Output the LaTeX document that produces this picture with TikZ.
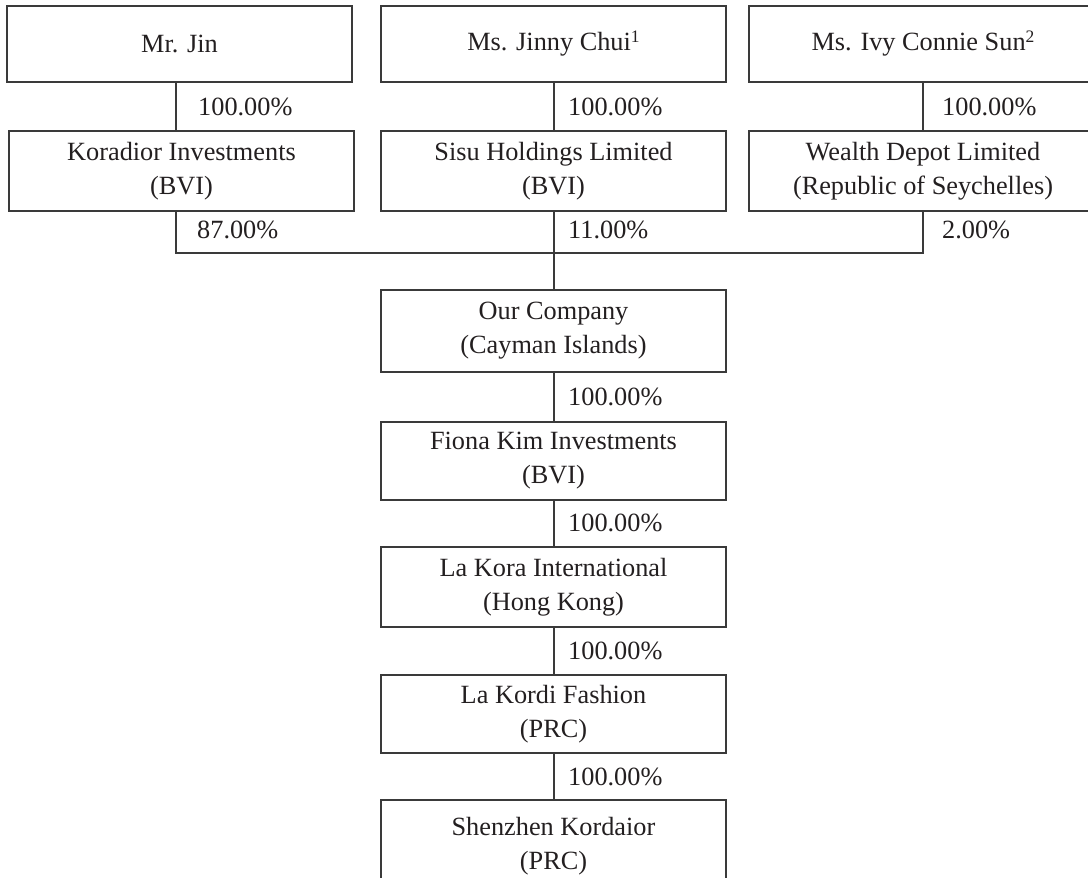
\documentclass[tikz,border=0pt]{standalone}
\usepackage{fontspec}
\setmainfont{Liberation Serif}
\definecolor{ink}{HTML}{231F20}
\definecolor{rule}{HTML}{3A3A3A}
\newcommand{\supnum}[1]{\raisebox{8pt}{\fontsize{17.5}{17.5}\selectfont #1}}
\begin{document}
\begin{tikzpicture}[x=1pt,y=-1pt,
  box/.style={draw=rule, line width=1.1pt, inner sep=0pt, align=center,
    text=ink, font=\fontsize{26.3}{34}\selectfont},
  pct/.style={anchor=west, inner sep=0pt, text=ink,
    font=\fontsize{26.3}{34}\selectfont},
  conn/.style={draw=rule, line width=1.1pt}]
\useasboundingbox (0,0) rectangle (1088,878);
% top row
\node[box, minimum width=345pt, minimum height=76pt] (jin) at (179.5,44) {Mr. Jin};
\node[box, minimum width=345pt, minimum height=76pt] (jinny) at (553.5,44) {Ms. Jinny Chui\supnum{1}};
\node[box, minimum width=348pt, minimum height=76pt] (ivy) at (923,44) {Ms. Ivy Connie Sun\supnum{2}};
% second row
\node[box, minimum width=345pt, minimum height=80pt] (kor) at (181.5,171) {Koradior Investments\\(BVI)};
\node[box, minimum width=345pt, minimum height=80pt] (sisu) at (553.5,171) {Sisu Holdings Limited\\(BVI)};
\node[box, minimum width=348pt, minimum height=80pt] (wealth) at (923,171) {Wealth Depot Limited\\(Republic of Seychelles)};
% central column
\node[box, minimum width=345pt, minimum height=82pt] (ourco) at (553.5,331) {Our Company\\(Cayman Islands)};
\node[box, minimum width=345pt, minimum height=78pt] (fiona) at (553.5,461) {Fiona Kim Investments\\(BVI)};
\node[box, minimum width=345pt, minimum height=80pt] (lakora) at (553.5,587) {La Kora International\\(Hong Kong)};
\node[box, minimum width=345pt, minimum height=78pt] (lakordi) at (553.5,714) {La Kordi Fashion\\(PRC)};
\node[box, minimum width=345pt, minimum height=92pt] (shenzhen) at (553.5,846) {Shenzhen Kordaior\\(PRC)};
% connector x positions
\coordinate (xl) at (176,0);
\coordinate (xm) at (554,0);
\coordinate (xr) at (923,0);
\coordinate (busl) at (176,253);
\coordinate (busr) at (923,253);
% connectors
\draw[conn] (jin.south -| xl) -- (kor.north -| xl);
\draw[conn] (jinny.south -| xm) -- (sisu.north -| xm);
\draw[conn] (ivy.south -| xr) -- (wealth.north -| xr);
\draw[conn] (kor.south -| xl) -- (busl) -- (busr) -- (wealth.south -| xr);
\draw[conn] (sisu.south -| xm) -- (ourco.north -| xm);
\draw[conn] (ourco.south -| xm) -- (fiona.north -| xm);
\draw[conn] (fiona.south -| xm) -- (lakora.north -| xm);
\draw[conn] (lakora.south -| xm) -- (lakordi.north -| xm);
\draw[conn] (lakordi.south -| xm) -- (shenzhen.north -| xm);
% percentages
\node[pct] (p1) at (198,107) {100.00\%};
\node[pct] (p2) at (568,107) {100.00\%};
\node[pct] (p3) at (942,107) {100.00\%};
\node[pct] (p4) at (197,230) {87.00\%};
\node[pct] (p5) at (568,230) {11.00\%};
\node[pct] (p6) at (942,230) {2.00\%};
\node[pct] (p7) at (568,397) {100.00\%};
\node[pct] (p8) at (568,523) {100.00\%};
\node[pct] (p9) at (568,651) {100.00\%};
\node[pct] (p10) at (568,777) {100.00\%};
\end{tikzpicture}
\end{document}
